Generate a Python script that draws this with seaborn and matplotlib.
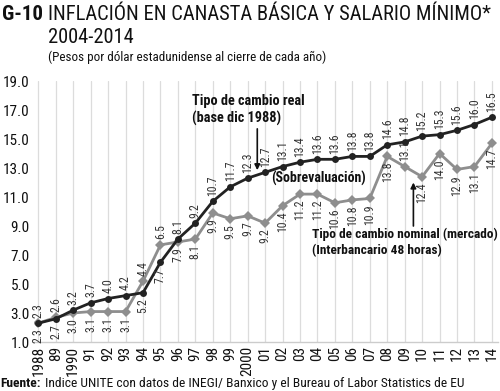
import matplotlib
matplotlib.use("Agg")
import matplotlib.pyplot as plt
import seaborn as sns
import pandas as pd

years = list(range(1988, 2015))
tick_labels = ["1988", "89", "1990", "91", "92", "93", "94", "95", "96", "97", "98", "99",
               "2000", "01", "02", "03", "04", "05", "06", "07", "08", "09", "10", "11",
               "12", "13", "14"]
real = [2.3, 2.6, 3.2, 3.7, 4.0, 4.2, 4.4, 6.5, 8.1, 9.2, 10.7, 11.7, 12.3, 12.7,
        13.1, 13.4, 13.6, 13.6, 13.8, 13.8, 14.6, 14.8, 15.2, 15.3, 15.6, 16.0, 16.5]
nominal = [2.3, 2.7, 3.0, 3.1, 3.1, 3.1, 5.2, 7.7, 7.9, 8.1, 9.9, 9.5, 9.7, 9.2,
           10.4, 11.2, 11.2, 10.6, 10.8, 10.9, 13.8, 13.1, 12.4, 14.0, 12.9, 13.1, 14.7]
y_ticks = [1.0, 3.0, 5.0, 7.0, 9.0, 11.0, 13.0, 15.0, 17.0, 19.0]

FONT = ["Roboto Condensed", "Archivo Narrow", "DejaVu Sans"]

sns.set_theme(style="white")
plt.rcParams["font.family"] = FONT

df = pd.DataFrame({
    "year": years * 2,
    "value": nominal + real,
    "serie": ["nominal"] * len(years) + ["real"] * len(years),
})

fig = plt.figure(figsize=(5.0, 3.91), dpi=100)
ax = fig.add_axes([0.068, 0.1253, 0.928, 0.6675])

for x in years:
    ax.axvline(x, color="#dcdcdc", lw=0.9, zorder=0)

sns.lineplot(data=df, x="year", y="value", hue="serie", style="serie",
             palette={"nominal": "#8e8e8e", "real": "#222222"},
             markers={"nominal": "D", "real": "o"}, dashes=False,
             markersize=5, linewidth=2.0, markeredgewidth=0, legend=False, ax=ax)

ax.set_xlim(1987.75, 2014.35)
ax.set_ylim(1.0, 19.0)
ax.set_yticks(y_ticks)
ax.set_yticklabels([f"{v:.1f}" for v in y_ticks], fontsize=11, color="#111111")
ax.set_xticks(years)
ax.set_xticklabels(tick_labels, rotation=90, fontsize=11, color="#111111")
ax.tick_params(axis="both", length=0, pad=3)
ax.set_xlabel("")
ax.set_ylabel("")
for s in ["top", "right", "left"]:
    ax.spines[s].set_visible(False)
ax.spines["bottom"].set_color("#cccccc")
ax.spines["bottom"].set_linewidth(1.0)

# data labels
for i, x in enumerate(years):
    r, n = real[i], nominal[i]
    hi, lo = max(r, n), min(r, n)
    ax.annotate(f"{r:.1f}", (x, hi), xytext=(0, 4), textcoords="offset points",
                rotation=90, ha="center", va="bottom", fontsize=8.5, color="#333333")
    if x == 2009:
        ax.annotate(f"{n:.1f}", (x, n), xytext=(0, 4), textcoords="offset points",
                    rotation=90, ha="center", va="bottom", fontsize=8.5, color="#333333")
    else:
        ax.annotate(f"{n:.1f}", (x, lo), xytext=(0, -4), textcoords="offset points",
                    rotation=90, ha="center", va="top", fontsize=8.5, color="#333333")

# annotations
ax.text(1996.8, 15.9, "Tipo de cambio real\n(base dic 1988)", fontsize=10.3,
        fontweight="bold", ha="left", va="bottom", linespacing=1.25, color="#111111")
ax.annotate("", xy=(2000.55, 12.85), xytext=(2000.55, 15.7),
            arrowprops=dict(arrowstyle="-|>", color="#111111", lw=1.2,
                            mutation_scale=8, shrinkA=0, shrinkB=0))
ax.text(2004.05, 12.3, "(Sobrevaluación)", fontsize=10, fontweight="bold",
        ha="center", va="center", color="#111111")
ax.annotate("", xy=(2009.5, 12.0), xytext=(2009.5, 9.0),
            arrowprops=dict(arrowstyle="-|>", color="#111111", lw=1.2,
                            mutation_scale=8, shrinkA=0, shrinkB=0))
ax.text(2003.7, 8.85, "Tipo de cambio nominal (mercado)\n(Interbancario 48 horas)",
        fontsize=9.6, fontweight="bold", ha="left", va="top", linespacing=1.25,
        color="#111111")

# titles
fig.text(0.004, 0.963, "G-10", fontsize=15, fontweight="bold", ha="left",
         va="center", color="#111111")
fig.text(0.096, 0.963, "INFLACIÓN EN CANASTA BÁSICA Y SALARIO MÍNIMO*", fontsize=14.8,
         ha="left", va="center", color="#111111")
fig.text(0.096, 0.903, "2004-2014", fontsize=14.8, ha="left", va="center", color="#111111")
fig.text(0.096, 0.853, "(Pesos por dólar estadunidense al cierre de cada año)",
         fontsize=9.4, ha="left", va="center", color="#111111")

fig.text(0.0, 0.018, "Fuente:", fontsize=9.7, fontweight="bold", ha="left",
         va="center", color="#111111")
fig.text(0.09, 0.018, "Indice UNITE con datos de INEGI/ Banxico y el Bureau of Labor Statistics de EU",
         fontsize=9.7, ha="left", va="center", color="#111111")

fig.savefig("out.png", dpi=100)
